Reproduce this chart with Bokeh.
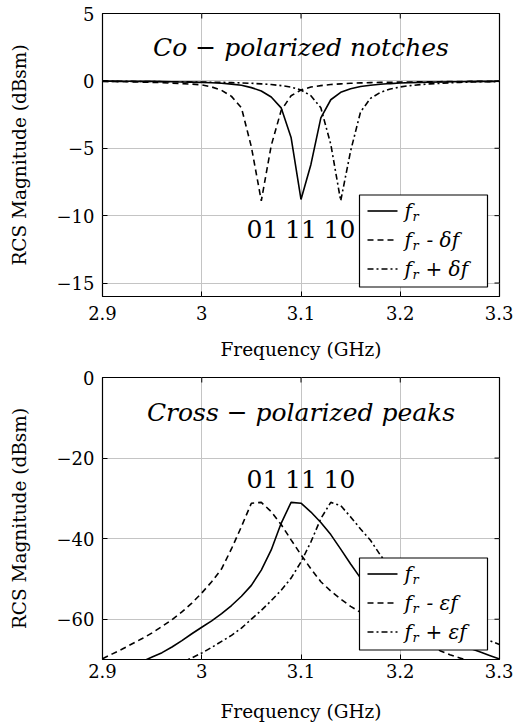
from bokeh.plotting import figure
from bokeh.models import Range1d, FixedTicker, BoxAnnotation, Label
from bokeh.layouts import column
from bokeh.embed import file_html
from bokeh.resources import INLINE

# ---------------- data ----------------
freq = [2.90, 2.91, 2.92, 2.93, 2.94, 2.95, 2.96, 2.97, 2.98, 2.99,
        3.00, 3.01, 3.02, 3.03, 3.04, 3.05, 3.06, 3.07, 3.08, 3.09,
        3.10, 3.11, 3.12, 3.13, 3.14, 3.15, 3.16, 3.17, 3.18, 3.19,
        3.20, 3.21, 3.22, 3.23, 3.24, 3.25, 3.26, 3.27, 3.28, 3.29, 3.30]

# Co-polarized notches (dBsm)
co_fr = [-0.02, -0.02, -0.03, -0.03, -0.04, -0.04, -0.05, -0.06, -0.08, -0.09,
         -0.11, -0.14, -0.18, -0.24, -0.33, -0.50, -0.75, -1.20, -2.00, -4.20,
         -8.80, -6.20, -2.75, -1.40, -0.85, -0.58, -0.42, -0.32, -0.25, -0.20,
         -0.16, -0.13, -0.11, -0.09, -0.08, -0.07, -0.06, -0.05, -0.04, -0.04, -0.03]
co_minus = [-0.04, -0.05, -0.06, -0.07, -0.09, -0.11, -0.13, -0.17, -0.20, -0.24,
            -0.30, -0.45, -0.70, -1.15, -2.00, -4.90, -8.90, -4.80, -2.20, -1.10,
            -0.68, -0.46, -0.35, -0.27, -0.22, -0.18, -0.15, -0.13, -0.11, -0.10,
            -0.09, -0.08, -0.07, -0.06, -0.06, -0.05, -0.05, -0.04, -0.04, -0.04, -0.03]
co_plus = [-0.03, -0.04, -0.04, -0.04, -0.05, -0.05, -0.06, -0.06, -0.07, -0.08,
           -0.09, -0.10, -0.11, -0.13, -0.15, -0.18, -0.22, -0.27, -0.35, -0.46,
           -0.68, -1.10, -2.00, -4.70, -8.90, -5.20, -2.30, -1.30, -0.85, -0.60,
           -0.45, -0.35, -0.28, -0.22, -0.18, -0.14, -0.11, -0.09, -0.07, -0.06, -0.05]

# Cross-polarized peaks (dBsm)
cross_fr = [-74.5, -73.5, -72.5, -71.5, -70.5, -69.4, -68.3, -66.9, -65.3, -63.6,
            -62.0, -60.4, -58.6, -56.6, -54.3, -51.6, -47.8, -42.8, -36.2, -31.0,
            -31.2, -33.4, -36.0, -39.0, -42.6, -46.3, -49.8, -52.5, -54.8, -56.8,
            -58.6, -60.2, -61.6, -62.9, -64.1, -65.2, -66.2, -67.2, -68.1, -69.0, -69.9]
cross_minus = [-69.8, -68.6, -67.4, -66.1, -64.8, -63.4, -61.8, -60.1, -58.2, -56.0,
               -53.5, -50.7, -47.5, -42.5, -37.0, -31.2, -31.0, -33.3, -36.5, -40.3,
               -44.0, -47.5, -50.7, -53.0, -55.0, -56.8, -58.3, -59.7, -60.9, -62.0,
               -63.1, -64.2, -65.3, -66.5, -67.8, -68.8, -69.6, -70.4, -71.2, -72.0, -72.8]
cross_plus = [-79.0, -78.0, -77.0, -76.0, -75.0, -74.0, -72.9, -71.8, -70.7, -69.6,
              -68.4, -67.0, -65.5, -64.0, -62.2, -60.0, -57.8, -55.4, -52.8, -49.8,
              -45.8, -40.8, -35.0, -31.0, -31.8, -34.6, -37.6, -40.4, -44.1, -47.3,
              -50.5, -53.0, -55.2, -57.1, -58.8, -60.3, -61.7, -63.0, -64.2, -65.3, -66.3]

x_ticks = [2.9, 3.0, 3.1, 3.2, 3.3]
x_tick_labels = ["2.9", "3", "3.1", "3.2", "3.3"]
co_y_ticks = [-15, -10, -5, 0, 5]
co_y_labels = ["\u221215", "\u221210", "\u22125", "0", "5"]
cross_y_ticks = [-60, -40, -20, 0]
cross_y_labels = ["\u221260", "\u221240", "\u221220", "0"]
state_codes = ["01", "11", "10"]

FONT = "DejaVu Serif"
W = 513
FL, FR = 102, 499
X0, X1 = 2.9, 3.3
TICK = 5

LINE_W = 1.6
DASH = "6 4"
DASHDOT = "6 3 2 3"


def px2x(px):
    return X0 + (px - FL) / (FR - FL) * (X1 - X0)


def make_panel(height, top_b, bot_b, y0, y1, yticks, ylabels,
               y_fr, y_minus, y_plus, title, greek, title_base, code_base,
               xlab_standoff, xtick_standoff):
    p = figure(width=W, height=height,
               x_range=Range1d(X0, X1), y_range=Range1d(y0, y1),
               output_backend="svg", toolbar_location=None,
               min_border_left=FL, min_border_right=W - FR,
               min_border_top=top_b, min_border_bottom=bot_b)
    p.background_fill_color = "white"
    p.border_fill_color = "white"
    p.outline_line_color = "black"
    p.outline_line_width = 1.2
    p.outline_line_alpha = 1.0

    frame_top = top_b
    frame_bot = height - bot_b

    def py2y(py):
        return y1 - (py - frame_top) / (frame_bot - frame_top) * (y1 - y0)

    xa = p.xaxis[0]
    ya = p.yaxis[0]
    xa.ticker = FixedTicker(ticks=x_ticks)
    xa.major_label_overrides = {t: s for t, s in zip(x_ticks, x_tick_labels)}
    ya.ticker = FixedTicker(ticks=yticks)
    ya.major_label_overrides = {t: s for t, s in zip(yticks, ylabels)}
    xa.axis_label = "Frequency (GHz)"
    ya.axis_label = "RCS Magnitude (dBsm)"
    for ax in (xa, ya):
        ax.axis_line_color = None
        ax.major_tick_in = TICK
        ax.major_tick_out = 0
        ax.major_tick_line_color = "black"
        ax.minor_tick_line_color = None
        ax.major_label_text_font = FONT
        ax.major_label_text_font_size = "18px"
        ax.major_label_text_color = "black"
        ax.axis_label_text_font = FONT
        ax.axis_label_text_font_size = "18.5px"
        ax.axis_label_text_font_style = "normal"
        ax.axis_label_text_color = "black"
    xa.major_label_standoff = xtick_standoff
    xa.axis_label_standoff = xlab_standoff
    ya.major_label_standoff = 8
    ya.axis_label_standoff = 24

    p.xgrid.grid_line_color = "#c4c4c4"
    p.ygrid.grid_line_color = "#c4c4c4"
    p.xgrid.grid_line_width = 1
    p.ygrid.grid_line_width = 1

    dy_tick = TICK / (frame_bot - frame_top) * (y1 - y0)
    dx_tick = TICK / (FR - FL) * (X1 - X0)
    p.segment(x0=x_ticks, y0=[y1] * len(x_ticks), x1=x_ticks,
              y1=[y1 - dy_tick] * len(x_ticks), line_color="black", line_width=1)
    p.segment(x0=[X1] * len(yticks), y0=yticks, x1=[X1 - dx_tick] * len(yticks),
              y1=yticks, line_color="black", line_width=1)

    p.line(freq, y_fr, line_color="black", line_width=LINE_W)
    p.line(freq, y_minus, line_color="black", line_width=LINE_W, line_dash=DASH)
    p.line(freq, y_plus, line_color="black", line_width=LINE_W, line_dash=DASHDOT)

    # legend box, drawn by hand so that the subscripts can be set
    bw, bh = 128, 92
    br = FR - 12
    bl = br - bw
    bb = frame_bot - 9.5
    bt = bb - bh
    p.add_layout(BoxAnnotation(left=px2x(bl), right=px2x(br), top=py2y(bt), bottom=py2y(bb),
                               fill_color="white", fill_alpha=1.0, line_color="black",
                               line_width=1.2, line_alpha=1.0))
    dashes = ["solid", DASH, DASHDOT]
    for i, sign in enumerate(["", "-", "+"]):
        cy = bt + 16 + i * 29
        p.line([px2x(bl + 8), px2x(bl + 38)], [py2y(cy), py2y(cy)], line_color="black",
               line_width=LINE_W, line_dash=dashes[i], level="overlay")
        p.add_layout(Label(x=px2x(bl + 45), y=py2y(cy), text="f", text_font=FONT,
                           text_font_style="italic", text_font_size="20px",
                           text_baseline="middle", text_color="black", level="overlay"))
        p.add_layout(Label(x=px2x(bl + 53), y=py2y(cy + 5), text="r", text_font=FONT,
                           text_font_style="italic", text_font_size="13px",
                           text_baseline="middle", text_color="black", level="overlay"))
        if sign:
            rest = ("- " if sign == "-" else "+ ") + greek + "f"
            p.add_layout(Label(x=px2x(bl + 67 if sign == "-" else bl + 66), y=py2y(cy),
                               text=rest, text_font=FONT,
                               text_font_style="italic", text_font_size="20px",
                               text_baseline="middle", text_color="black", level="overlay"))

    p.add_layout(Label(x=3.1, y=py2y(title_base), text=title, text_font=FONT,
                       text_font_style="italic", text_font_size="25px",
                       text_align="center", text_baseline="alphabetic", text_color="black"))
    for code, cx in zip(state_codes, [262, 300.5, 339]):
        p.add_layout(Label(x=px2x(cx), y=py2y(code_base), text=code, text_font=FONT,
                           text_font_size="25px", text_align="center",
                           text_baseline="alphabetic", text_color="black"))
    return p


p1 = make_panel(363, 13, 67, -16, 5, co_y_ticks, co_y_labels,
                co_fr, co_minus, co_plus,
                "Co \u2212 polarized notches", "\u03b4", 46.7, 228.3,
                xlab_standoff=16, xtick_standoff=9)
p2 = make_panel(364, 14, 68, -70, 0, cross_y_ticks, cross_y_labels,
                cross_fr, cross_minus, cross_plus,
                "Cross \u2212 polarized peaks", "\u03b5", 411.7 - 363, 478.3 - 363,
                xlab_standoff=20, xtick_standoff=4)

layout = column(p1, p2, spacing=0)
open("out.html", "w").write(file_html(layout, INLINE))
